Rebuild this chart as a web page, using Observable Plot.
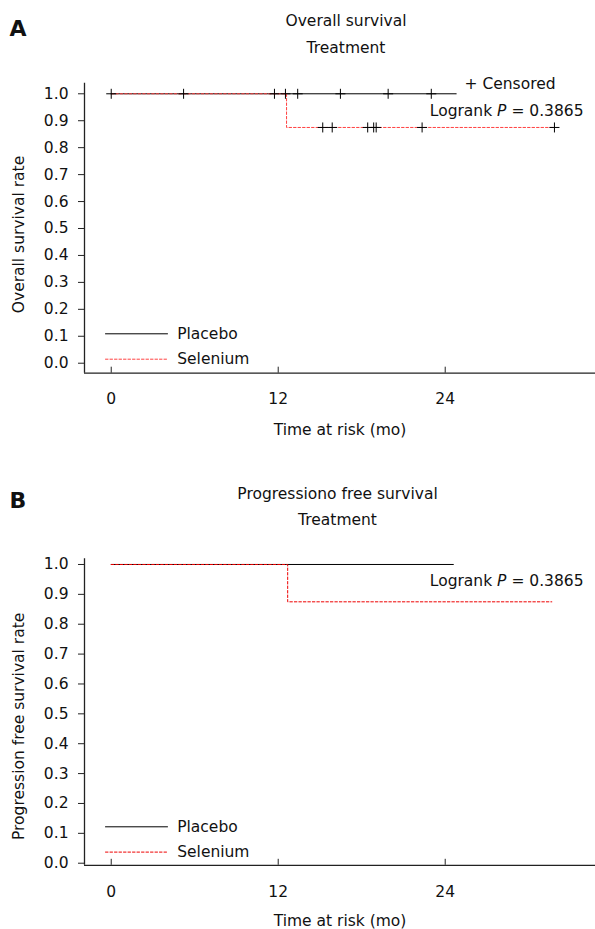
<!DOCTYPE html>
<html><head><meta charset="utf-8">
<script src="https://cdn.jsdelivr.net/npm/d3@7"></script>
<script src="https://cdn.jsdelivr.net/npm/@observablehq/plot@0.6"></script>
<style>
body{margin:0;background:#fff;}
#wrap{position:relative;width:595px;height:929px;overflow:hidden;background:#fff;}
#wrap svg{position:absolute;left:0;}
</style></head><body><div id="wrap"></div>
<script>
// ---------- data ----------
const xTicks = [0, 12, 24];
const yTicks = [0, 0.1, 0.2, 0.3, 0.4, 0.5, 0.6, 0.7, 0.8, 0.9, 1.0];
const groups = ["Placebo", "Selenium"];

// Panel A: overall survival (Kaplan-Meier steps)
const osPlaceboTime = [0, 24.8];
const osPlaceboSurv = [1, 1];
const osSeleniumTime = [0, 12.6, 31.85];
const osSeleniumSurv = [1, 0.875, 0.875];
const osPlaceboCensorTime = [0, 5.2, 11.73, 12.52, 13.4, 16.47, 19.9, 23.0];
const osPlaceboCensorSurv = [1, 1, 1, 1, 1, 1, 1, 1];
const osSeleniumCensorTime = [15.2, 15.88, 18.43, 18.86, 19.04, 22.34, 31.85];
const osSeleniumCensorSurv = [0.875, 0.875, 0.875, 0.875, 0.875, 0.875, 0.875];

// Panel B: progression free survival
const pfsPlaceboTime = [0, 24.6];
const pfsPlaceboSurv = [1, 1];
const pfsSeleniumTime = [0, 12.68, 31.66];
const pfsSeleniumSurv = [1, 0.875, 0.875];

const logrankText = ["Logrank ", "P", " = 0.3865"];

// ---------- drawing ----------
const FONT = "'DejaVu Sans', Verdana, sans-serif";
const FS = 15.5;
const AXIS = "#222";
const zip = (t, s) => t.map((d, i) => ({t: d, s: s[i]}));
const plusSym = {draw(ctx) { const h = 5; ctx.moveTo(-h, 0); ctx.lineTo(h, 0); ctx.moveTo(0, -h); ctx.lineTo(0, h); }};
const lineShape = {draw(ctx, l) { ctx.moveTo(0, 0); ctx.lineTo(0, -l); }};
const T = (o) => ({fontSize: FS, lineAnchor: "middle", ...o});

function panel(cfg) {
  const innerH = cfg.height - cfg.mt - cfg.mb;
  const [x0, x1] = cfg.xDomain, [y0, y1] = cfg.yDomain;
  const marks = [
    Plot.ruleX([x0], {y1: y0, y2: y1, stroke: AXIS, strokeWidth: 1.3}),
    Plot.ruleY([y0], {x1: x0, x2: x1, stroke: AXIS, strokeWidth: 1.3}),
    Plot.axisY(yTicks, {tickSize: 6, tickPadding: 10, tickFormat: d3.format(".1f"), fontSize: FS, stroke: AXIS, label: null}),
    Plot.tickX(xTicks, {x: d => d, insetTop: innerH - 6, stroke: AXIS}),
    Plot.text(xTicks, T({x: d => d, text: d => String(d), frameAnchor: "bottom", dy: cfg.tickDy})),
    Plot.text([cfg.xLabel], T({frameAnchor: "bottom", dy: cfg.xLabelDy})),
    Plot.text([cfg.yLabel], T({frameAnchor: "left", dx: -65, dy: cfg.yLabelDy, rotate: -90, textAnchor: "middle"})),
    Plot.text([cfg.title1], T({frameAnchor: "top", dx: cfg.titleDx, dy: cfg.title1Dy})),
    Plot.text(["Treatment"], T({frameAnchor: "top", dx: cfg.titleDx, dy: cfg.title2Dy})),
    Plot.text([cfg.letter], T({frameAnchor: "top-left", dx: -75, dy: cfg.letterDy, textAnchor: "start", fontSize: 22, fontWeight: "bold"})),
    Plot.line(zip(cfg.pTime, cfg.pSurv), {x: "t", y: "s", curve: "step-after", stroke: "#000", strokeWidth: 1}),
    Plot.line(zip(cfg.sTime, cfg.sSurv), {x: "t", y: "s", curve: "step-after", stroke: cfg.red, strokeWidth: 1, strokeDasharray: "2.5,2"}),
    // legend
    Plot.vector([groups[0]], {frameAnchor: "bottom-left", dx: 21, dy: cfg.legDy[0], length: 62, rotate: 90, anchor: "start", shape: lineShape, stroke: "#000", strokeWidth: 1}),
    Plot.vector([groups[1]], {frameAnchor: "bottom-left", dx: 21, dy: cfg.legDy[1], length: 62, rotate: 90, anchor: "start", shape: lineShape, stroke: cfg.red, strokeWidth: 1, strokeDasharray: "2.5,2"}),
    Plot.text([groups[0]], T({frameAnchor: "bottom-left", dx: 92.7, dy: cfg.legDy[0], textAnchor: "start"})),
    Plot.text([groups[1]], T({frameAnchor: "bottom-left", dx: 92.7, dy: cfg.legDy[1], textAnchor: "start"})),
    Plot.text([logrankText.join("")], T({frameAnchor: "top-left", dx: 345.3, dy: cfg.logDy, textAnchor: "start"}))
  ];
  if (cfg.pcTime) {
    marks.push(Plot.dot(zip(cfg.pcTime, cfg.pcSurv), {x: "t", y: "s", symbol: plusSym, fill: "none", stroke: "#000", strokeWidth: 1}));
    marks.push(Plot.dot(zip(cfg.scTime, cfg.scSurv), {x: "t", y: "s", symbol: plusSym, fill: "none", stroke: "#000", strokeWidth: 1}));
    marks.push(Plot.text(["+ Censored"], T({frameAnchor: "top-left", dx: 380, dy: 1.3, textAnchor: "start"})));
  }
  const svg = Plot.plot({
    width: 595, height: cfg.height,
    marginLeft: 84, marginRight: 0, marginTop: cfg.mt, marginBottom: cfg.mb,
    x: {domain: cfg.xDomain, axis: null},
    y: {domain: cfg.yDomain, axis: null},
    style: {fontFamily: FONT, fontSize: FS + "px", color: "#111", background: "transparent", overflow: "visible"},
    marks
  });
  svg.style.top = cfg.top + "px";
  // italic P in the logrank label
  svg.querySelectorAll("text").forEach(t => {
    if (t.textContent === logrankText.join("")) {
      t.textContent = "";
      logrankText.forEach((s, i) => {
        const ts = document.createElementNS("http://www.w3.org/2000/svg", "tspan");
        ts.textContent = s;
        if (i === 1) ts.setAttribute("font-style", "italic");
        t.appendChild(ts);
      });
      t.setAttribute("style", "white-space:pre");
    }
  });
  return svg;
}

const wrap = document.getElementById("wrap");
wrap.appendChild(panel({
  top: 0, height: 460, mt: 82.7, mb: 87.3,
  xDomain: [-1.92, 34.8], yDomain: [-0.0371, 1.0393],
  tickDy: 26, xLabelDy: 57.3, yLabelDy: 6.3,
  xLabel: "Time at risk (mo)", yLabel: "Overall survival rate",
  title1: "Overall survival", titleDx: 6, title1Dy: -61.7, title2Dy: -35.5,
  letter: "A", letterDy: -54.7,
  pTime: osPlaceboTime, pSurv: osPlaceboSurv, sTime: osSeleniumTime, sSurv: osSeleniumSurv,
  pcTime: osPlaceboCensorTime, pcSurv: osPlaceboCensorSurv, scTime: osSeleniumCensorTime, scSurv: osSeleniumCensorSurv,
  red: "#ff4040", legDy: [-39.4, -14], logDy: 28.3
}));
wrap.appendChild(panel({
  top: 470, height: 459, mt: 88.3, mb: 64.2,
  xDomain: [-1.92, 34.8], yDomain: [-0.007, 1.019],
  tickDy: 27, xLabelDy: 55.5, yLabelDy: 14.3,
  xLabel: "Time at risk (mo)", yLabel: "Progression free survival rate",
  title1: "Progressiono free survival", titleDx: -2.5, title1Dy: -64.3, title2Dy: -38.3,
  letter: "B", letterDy: -58.3,
  pTime: pfsPlaceboTime, pSurv: pfsPlaceboSurv, sTime: pfsSeleniumTime, sSurv: pfsSeleniumSurv,
  red: "#ee0000", legDy: [-38.5, -13.2], logDy: 22.7
}));
</script>
</body></html>
